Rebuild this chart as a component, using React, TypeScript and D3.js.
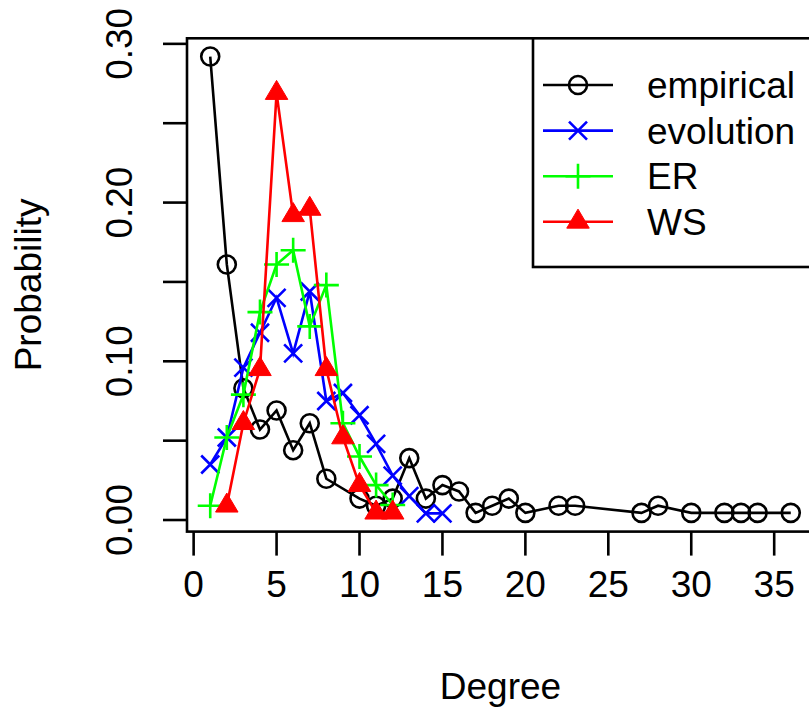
import React, { useEffect, useRef } from 'react';
import * as d3 from 'd3';

// degree distributions
const empiricalDeg = [1, 2, 3, 4, 5, 6, 7, 8, 10, 11, 12, 13, 14, 15, 16, 17, 18, 19, 20, 22, 23, 27, 28, 30, 32, 33, 34, 36];
const empiricalProb = [0.292, 0.161, 0.083, 0.057, 0.069, 0.044, 0.061, 0.026, 0.0135, 0.009, 0.0135, 0.039, 0.0135, 0.022, 0.018, 0.0045, 0.009, 0.0135, 0.0045, 0.009, 0.009, 0.0045, 0.009, 0.0045, 0.0045, 0.0045, 0.0045, 0.0045];

const evolutionDeg = [1, 2, 3, 4, 5, 6, 7, 8, 9, 10, 11, 12, 13, 14, 15];
const evolutionProb = [0.035, 0.052, 0.096, 0.118, 0.14, 0.105, 0.144, 0.075, 0.08, 0.066, 0.048, 0.028, 0.015, 0.0042, 0.0042];

const erDeg = [1, 2, 3, 4, 5, 6, 7, 8, 9, 10, 11, 12];
const erProb = [0.009, 0.052, 0.079, 0.131, 0.161, 0.17, 0.122, 0.148, 0.061, 0.04, 0.022, 0.0095];

const wsDeg = [2, 3, 4, 5, 6, 7, 8, 9, 10, 11, 12];
const wsProb = [0.009, 0.061, 0.095, 0.269, 0.192, 0.196, 0.095, 0.052, 0.022, 0.0046, 0.0046];

const xTicks = [0, 5, 10, 15, 20, 25, 30, 35];
const yTicks = [0, 0.05, 0.1, 0.15, 0.2, 0.25, 0.3];
const yLabels = [0, 0.1, 0.2, 0.3];

const seriesNames = ['empirical', 'evolution', 'ER', 'WS'];

const App = () => {
  const ref = useRef<SVGSVGElement>(null);

  useEffect(() => {
    const svg = d3.select(ref.current);
    svg.selectAll('*').remove();

    const font = 'Liberation Sans, Arial, sans-serif';
    const fs = 37;
    const lw = 2.6;

    // plot region (R style 4% extension on both axes)
    const left = 187, right = 814, top = 38.3, bottom = 531.6;
    const x = d3.scaleLinear().domain([-0.4, 37.4]).range([left, right]);
    const y = d3.scaleLinear().domain([-0.0073, 0.3035]).range([bottom, top]);

    const series = [
      { name: seriesNames[0], deg: empiricalDeg, prob: empiricalProb, color: '#000000', pch: 'circle' },
      { name: seriesNames[1], deg: evolutionDeg, prob: evolutionProb, color: '#0000ff', pch: 'x' },
      { name: seriesNames[2], deg: erDeg, prob: erProb, color: '#00ff00', pch: 'plus' },
      { name: seriesNames[3], deg: wsDeg, prob: wsProb, color: '#ff0000', pch: 'triangle' },
    ];

    const drawMarker = (g: any, cx: number, cy: number, pch: string, color: string) => {
      if (pch === 'circle') {
        g.append('circle').attr('cx', cx).attr('cy', cy).attr('r', 9)
          .attr('fill', 'none').attr('stroke', color).attr('stroke-width', lw);
      } else if (pch === 'x') {
        const r = 9;
        g.append('path')
          .attr('d', `M${cx - r},${cy - r}L${cx + r},${cy + r}M${cx - r},${cy + r}L${cx + r},${cy - r}`)
          .attr('stroke', color).attr('stroke-width', lw);
      } else if (pch === 'plus') {
        const r = 12.5;
        g.append('path')
          .attr('d', `M${cx - r},${cy}L${cx + r},${cy}M${cx},${cy - r}L${cx},${cy + r}`)
          .attr('stroke', color).attr('stroke-width', lw);
      } else {
        const h = 19, w = 22.5;
        g.append('path')
          .attr('d', `M${cx},${cy - (2 * h) / 3}L${cx + w / 2},${cy + h / 3}L${cx - w / 2},${cy + h / 3}Z`)
          .attr('fill', color).attr('stroke', color).attr('stroke-width', 1);
      }
    };

    const line = d3.line<[number, number]>().x(d => x(d[0])).y(d => y(d[1]));

    // series
    series.forEach(s => {
      const g = svg.append('g');
      const pts = s.deg.map((d, i) => [d, s.prob[i]] as [number, number]);
      g.append('path').attr('d', line(pts)).attr('fill', 'none')
        .attr('stroke', s.color).attr('stroke-width', lw);
      pts.forEach(p => drawMarker(g, x(p[0]), y(p[1]), s.pch, s.color));
    });

    // box
    svg.append('rect').attr('x', left).attr('y', top)
      .attr('width', right - left).attr('height', bottom - top)
      .attr('fill', 'none').attr('stroke', '#000').attr('stroke-width', lw);

    // x axis
    const xa = svg.append('g');
    xTicks.forEach(t => {
      xa.append('line').attr('x1', x(t)).attr('x2', x(t)).attr('y1', bottom).attr('y2', bottom + 24)
        .attr('stroke', '#000').attr('stroke-width', lw);
      xa.append('text').attr('x', x(t)).attr('y', 597).attr('text-anchor', 'middle')
        .attr('font-family', font).attr('font-size', fs).text(t);
    });

    // y axis
    const ya = svg.append('g');
    yTicks.forEach(t => {
      ya.append('line').attr('x1', left - 24).attr('x2', left).attr('y1', y(t)).attr('y2', y(t))
        .attr('stroke', '#000').attr('stroke-width', lw);
    });
    yLabels.forEach(t => {
      ya.append('text').attr('transform', `translate(132,${y(t)}) rotate(-90)`)
        .attr('text-anchor', 'middle').attr('font-family', font).attr('font-size', fs)
        .text(d3.format('.2f')(t));
    });

    // axis titles
    svg.append('text').attr('x', (left + right) / 2).attr('y', 699).attr('text-anchor', 'middle')
      .attr('font-family', font).attr('font-size', fs).text('Degree');
    svg.append('text').attr('transform', `translate(41,${(top + bottom) / 2}) rotate(-90)`)
      .attr('text-anchor', 'middle').attr('font-family', font).attr('font-size', fs).text('Probability');

    // legend
    const lg = svg.append('g');
    lg.append('rect').attr('x', 533).attr('y', top).attr('width', right - 533).attr('height', 267 - top)
      .attr('fill', '#fff').attr('stroke', '#000').attr('stroke-width', lw);
    series.forEach((s, i) => {
      const cy = 85 + i * 45.6;
      lg.append('line').attr('x1', 543).attr('x2', 613).attr('y1', cy).attr('y2', cy)
        .attr('stroke', s.color).attr('stroke-width', lw);
      drawMarker(lg, 578, cy, s.pch, s.color);
      lg.append('text').attr('x', 647).attr('y', cy + 13).attr('font-family', font)
        .attr('font-size', fs).text(s.name);
    });
  }, []);

  return (
    <div style={{ position: 'absolute', left: 0, top: 0 }}>
      <svg ref={ref} width="809" height="713" style={{ display: 'block', background: '#fff' }}></svg>
    </div>
  );
};

export default App;
